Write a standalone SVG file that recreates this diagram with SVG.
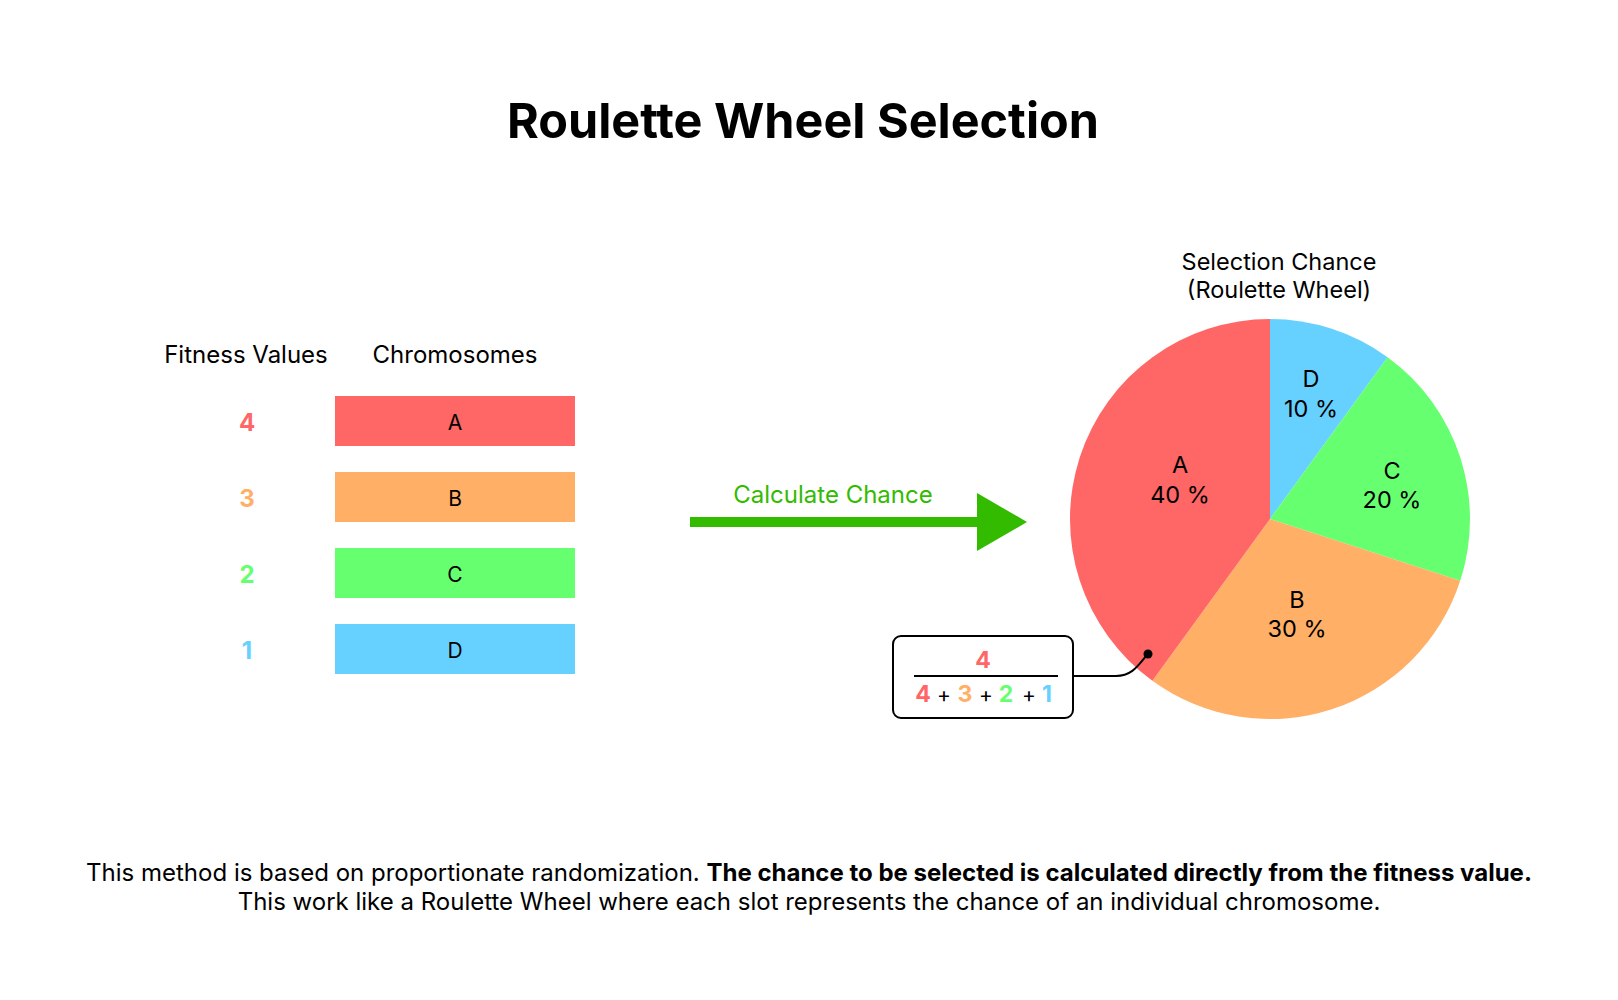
<svg xmlns="http://www.w3.org/2000/svg" width="1618" height="1000" viewBox="0 0 1618 1000">
<style>
text{font-family:Inter,"Noto Sans","Liberation Sans",sans-serif;fill:#000}
.t{font-size:48.5px;font-weight:700}
.h{font-size:24px}
.fv{font-size:24px;font-weight:700}
.lbl{font-size:21px}
.pl{font-size:23.5px}
.ft{font-size:23px;font-weight:700}
.op{font-size:21px;font-weight:400}
.foot{font-size:24px}
.red{fill:#FF6666}.org{fill:#FFAF66}.grn{fill:#66FF70}.blu{fill:#66D0FF}
</style>
<rect width="1618" height="1000" fill="#fff"/>
<text class="t" x="803" y="138" text-anchor="middle">Roulette Wheel Selection</text>

<g id="headers">
<text class="h" x="246" y="363" text-anchor="middle">Fitness Values</text>
<text class="h" x="455" y="363" text-anchor="middle">Chromosomes</text>
</g>
<g id="rowA"><text class="fv red" x="247" y="431" text-anchor="middle">4</text><rect class="red" x="335" y="396" width="240" height="50"/><text class="lbl" x="455" y="430" text-anchor="middle">A</text></g>
<g id="rowB"><text class="fv org" x="247" y="507" text-anchor="middle">3</text><rect class="org" x="335" y="472" width="240" height="50"/><text class="lbl" x="455" y="506" text-anchor="middle">B</text></g>
<g id="rowC"><text class="fv grn" x="247" y="583" text-anchor="middle">2</text><rect class="grn" x="335" y="548" width="240" height="50"/><text class="lbl" x="455" y="582" text-anchor="middle">C</text></g>
<g id="rowD"><text class="fv blu" x="247" y="659" text-anchor="middle">1</text><rect class="blu" x="335" y="624" width="240" height="50"/><text class="lbl" x="455" y="658" text-anchor="middle">D</text></g>

<g id="pie">
<text class="pl" x="1279" y="270" text-anchor="middle">Selection Chance</text>
<text class="pl" x="1279" y="298" text-anchor="middle">(Roulette Wheel)</text>
<path class="blu" d="M1270,519 L1270,319 A200,200 0 0 1 1387.56,357.20 Z"/>
<path class="grn" d="M1270,519 L1387.56,357.20 A200,200 0 0 1 1460.21,580.80 Z"/>
<path class="org" d="M1270,519 L1460.21,580.80 A200,200 0 0 1 1152.44,680.80 Z"/>
<path class="red" d="M1270,519 L1152.44,680.80 A200,200 0 0 1 1270,319 Z"/>
<text class="pl" x="1311" y="387" text-anchor="middle">D</text>
<text class="pl" x="1311" y="417" text-anchor="middle">10 %</text>
<text class="pl" x="1392" y="479" text-anchor="middle">C</text>
<text class="pl" x="1392" y="508" text-anchor="middle">20 %</text>
<text class="pl" x="1297" y="608" text-anchor="middle">B</text>
<text class="pl" x="1297" y="637" text-anchor="middle">30 %</text>
<text class="pl" x="1180" y="473" text-anchor="middle">A</text>
<text class="pl" x="1180" y="503" text-anchor="middle">40 %</text>
</g>

<g id="connectors">
<rect x="690" y="517" width="288" height="10" fill="#33BB00"/>
<polygon points="977,493 1027,522 977,551" fill="#33BB00"/>
<text x="833" y="503" text-anchor="middle" style="font-size:24px;fill:#33BB00">Calculate Chance</text>
<path d="M1073,676 H1116 C1134,676 1140,662 1148,654" fill="none" stroke="#000" stroke-width="2"/>
<circle cx="1148" cy="654" r="4.5" fill="#000"/>
</g>

<g id="formula">
<rect x="893" y="636" width="180" height="82" rx="8" fill="#fff" stroke="#000" stroke-width="2"/>
<line x1="914" y1="676" x2="1058" y2="676" stroke="#000" stroke-width="2"/>
<text class="ft red" x="983" y="668" text-anchor="middle">4</text>
<text class="ft red" x="923" y="702" text-anchor="middle">4</text>
<text class="op" x="944" y="702" text-anchor="middle">+</text>
<text class="ft org" x="965" y="702" text-anchor="middle">3</text>
<text class="op" x="986" y="702" text-anchor="middle">+</text>
<text class="ft grn" x="1006" y="702" text-anchor="middle">2</text>
<text class="op" x="1029" y="702" text-anchor="middle">+</text>
<text class="ft blu" x="1047" y="702" text-anchor="middle">1</text>
</g>

<g id="footer">
<text class="foot" x="809" y="881" text-anchor="middle">This method is based on proportionate randomization. <tspan font-weight="700">The chance to be selected is calculated directly from the fitness value.</tspan></text>
<text class="foot" x="809" y="910" text-anchor="middle">This work like a Roulette Wheel where each slot represents the chance of an individual chromosome.</text>
</g>
</svg>
